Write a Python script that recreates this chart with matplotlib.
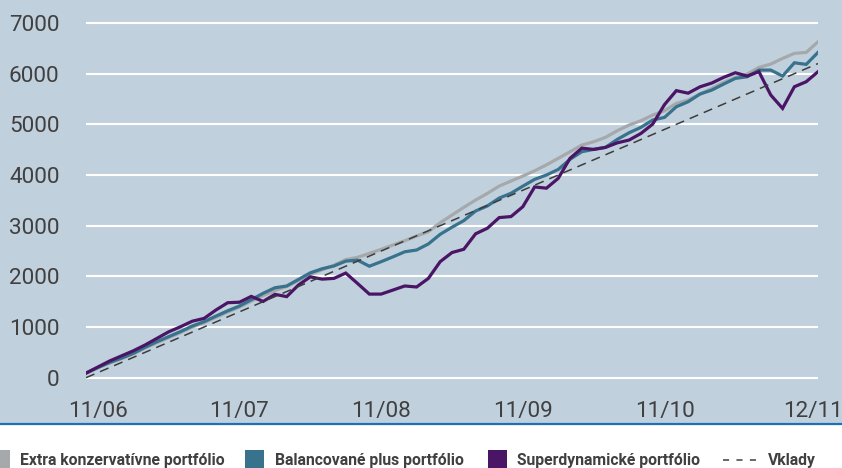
import matplotlib
matplotlib.use('Agg')
import matplotlib.pyplot as plt
from matplotlib.patches import Rectangle
from matplotlib.lines import Line2D

# monthly values, 10/06 .. 12/11
extra = [90, 195, 290, 375, 470, 585, 690, 790, 890, 1000,
         1085, 1190, 1295, 1395, 1510, 1620, 1720, 1800, 1920, 2040,
         2130, 2220, 2330, 2375, 2454, 2533, 2618, 2703, 2796, 2881,
         3058, 3210, 3362, 3506, 3638, 3782, 3881, 3979, 4084, 4200,
         4330, 4459, 4591, 4657, 4743, 4874, 4986, 5071, 5183, 5268,
         5414, 5479, 5597, 5710, 5828, 5927, 5992, 6124, 6189, 6301,
         6400, 6420, 6629]
balanc = [90, 200, 300, 385, 480, 600, 710, 810, 910, 1020,
          1105, 1215, 1320, 1415, 1540, 1665, 1775, 1810, 1940, 2070,
          2150, 2205, 2300, 2320, 2200, 2290, 2385, 2485, 2520, 2640,
          2830, 2970, 3100, 3290, 3390, 3545, 3640, 3780, 3914, 4000,
          4110, 4310, 4460, 4506, 4546, 4703, 4834, 4940, 5085, 5137,
          5347, 5446, 5597, 5676, 5794, 5907, 5939, 6071, 6071, 5953,
          6215, 6183, 6420]
superdyn = [90, 210, 330, 430, 530, 645, 775, 905, 1005, 1115,
            1170, 1335, 1480, 1490, 1605, 1505, 1645, 1600, 1830, 1990,
            1945, 1960, 2065, 1860, 1650, 1650, 1730, 1810, 1790, 1960,
            2290, 2470, 2535, 2840, 2950, 3160, 3180, 3375, 3765, 3740,
            3935, 4330, 4530, 4505, 4545, 4635, 4690, 4820, 5005, 5390,
            5665, 5615, 5740, 5815, 5927, 6018, 5953, 6038, 5578, 5315,
            5742, 5841, 6038]
vklady = [0, 100, 200, 300, 400, 500, 600, 700, 800, 900,
          1000, 1100, 1200, 1300, 1400, 1500, 1600, 1700, 1800, 1900,
          2000, 2100, 2200, 2300, 2400, 2500, 2600, 2700, 2800, 2900,
          3000, 3100, 3200, 3300, 3400, 3500, 3600, 3700, 3800, 3900,
          4000, 4100, 4200, 4300, 4400, 4500, 4600, 4700, 4800, 4900,
          5000, 5100, 5200, 5300, 5400, 5500, 5600, 5700, 5800, 5900,
          6000, 6100, 6200]

tick_pos = [1, 13, 25, 37, 49, 61.6]
tick_labels = ['11/06', '11/07', '11/08', '11/09', '11/10', '12/11']
y_ticks = [0, 1000, 2000, 3000, 4000, 5000, 6000, 7000]

names = ['Extra konzervatívne portfólio', 'Balancované plus portfólio',
         'Superdynamické portfólio', 'Vklady']
c_gray = '#A6A9AB'
c_teal = '#38728D'
c_purple = '#4A1565'
c_dash = '#3C3C3C'
bg = '#C1D0DD'
txt = '#404040'

W, H = 842, 468
fig = plt.figure(figsize=(W / 100, H / 100), dpi=100)
fig.patch.set_facecolor('white')

def fx(x):
    return x / W

def fy(y):
    return 1 - y / H

# light band behind the chart and the blue rule under it
fig.add_artist(Rectangle((0, fy(423.5)), 1, 1 - fy(423.5), transform=fig.transFigure,
                         facecolor=bg, edgecolor='none', zorder=0))
fig.add_artist(Line2D([0, 1], [fy(423.5), fy(423.5)], transform=fig.transFigure,
                      color='#1F6FB6', lw=1.6, zorder=1))

# y: 0 -> 377.7 px, 7000 -> 23 px
ppu = (377.7 - 23) / 7000
ylo, yhi = -200, 7200
top_px = 23 - (yhi - 7000) * ppu
bot_px = 377.7 + (0 - ylo) * ppu
ax = fig.add_axes([fx(86), fy(bot_px), fx(818) - fx(86), (bot_px - top_px) / H])
ax.set_facecolor('none')
ax.set_xlim(0, 62)
ax.set_ylim(ylo, yhi)
for s in ax.spines.values():
    s.set_visible(False)

x = list(range(len(extra)))
for v in y_ticks:
    ax.axhline(v, color='white', lw=1.5, zorder=1)
ax.plot(x, extra, color=c_gray, lw=2.3, zorder=2, solid_joinstyle='miter')
ax.plot(x, balanc, color=c_teal, lw=2.3, zorder=3, solid_joinstyle='miter')
ax.plot(x, superdyn, color=c_purple, lw=2.3, zorder=4, solid_joinstyle='miter')
ax.plot(x, vklady, color=c_dash, lw=1.1, dashes=(6, 4), zorder=5)

tfont = dict(family=['Roboto', 'DejaVu Sans'], size=16.2)
ax.set_yticks(y_ticks)
ax.set_yticklabels([str(v) for v in y_ticks], color=txt, **tfont)
ax.set_xticks(tick_pos)
ax.set_xticklabels(tick_labels, color=txt, **tfont)
ax.tick_params(axis='y', length=0, pad=19)
ax.tick_params(axis='x', length=0, pad=17 - (bot_px - 377.7) * 0.72)

# legend row
lfont = dict(family=['Roboto', 'DejaVu Sans'], size=11.3,
             weight='bold', color=txt, va='baseline')
base = fy(465.5)
sq = [(-9, c_gray), (245, c_teal), (488, c_purple)]
tx = [20.5, 275, 517]
for (sx, c), t, name in zip(sq, tx, names[:3]):
    fig.add_artist(Rectangle((fx(sx), fy(469)), fx(19), 19 / H, transform=fig.transFigure,
                             facecolor=c, edgecolor='none', zorder=2))
    fig.text(fx(t), base, name, **lfont)
fig.add_artist(Line2D([fx(723), fx(757)], [fy(459.5), fy(459.5)], transform=fig.transFigure,
                      color=txt, lw=1.1, dashes=(4, 4.8), zorder=2))
fig.text(fx(768), base, names[3], **lfont)

fig.savefig('out.png', dpi=100, facecolor=fig.get_facecolor())
